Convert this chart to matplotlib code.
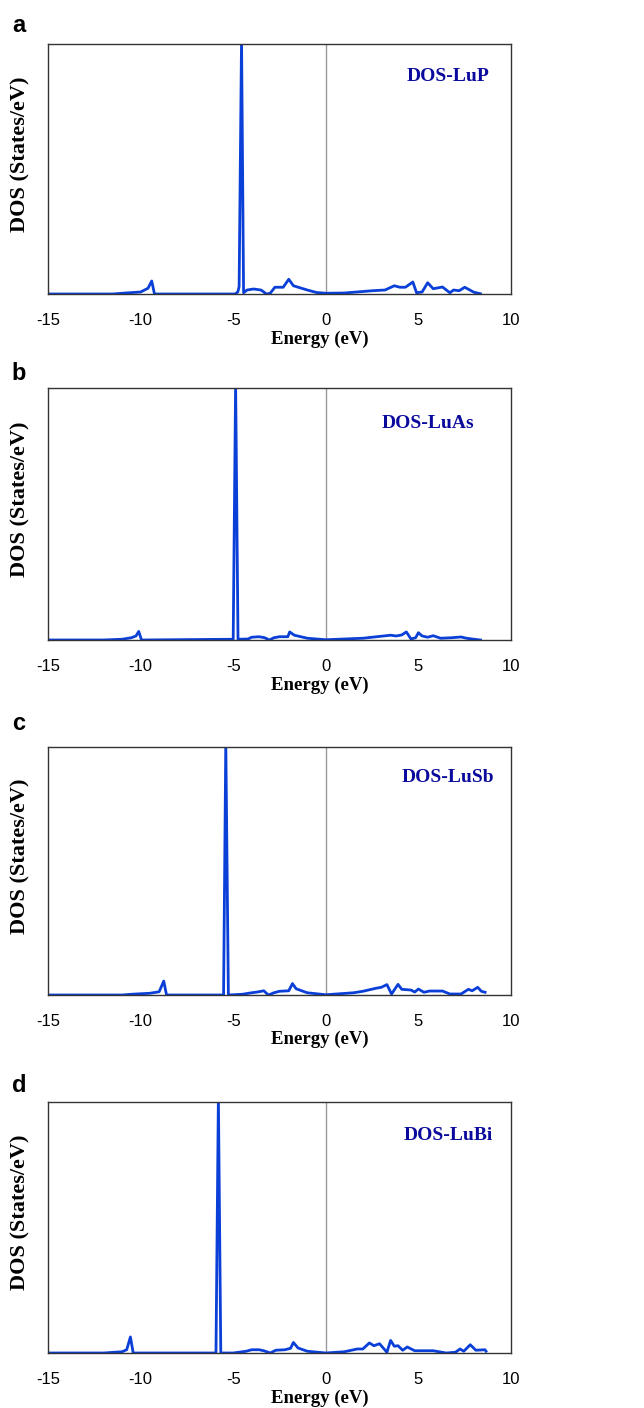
import matplotlib.pyplot as plt
import numpy as np

# Curvas DOS (energia en eV, DOS en unidades relativas; el pico agudo llega al borde superior)
e_lup = [-15, -11.5, -11, -10, -9.6, -9.4, -9.25, -4.9, -4.75, -4.68, -4.55, -4.44, -4.25, -3.9, -3.5, -3.2,
         -3.0, -2.75, -2.3, -2.0, -1.75, -1.0, -0.5, 0, 1, 2.5, 3.2, 3.7, 4.0, 4.3, 4.7, 4.9, 5.2, 5.5, 5.8,
         6.3, 6.7, 6.9, 7.2, 7.5, 8.0, 8.35]
dos_lup = [0, 0, 0.003, 0.008, 0.023, 0.052, 0, 0, 0.008, 0.03, 1.02, 0.005, 0.016, 0.02, 0.016, 0.0,
           0.003, 0.027, 0.027, 0.059, 0.033, 0.016, 0.006, 0.003, 0.004, 0.013, 0.016, 0.033, 0.027, 0.027,
           0.048, 0.005, 0.008, 0.045, 0.021, 0.028, 0.005, 0.016, 0.013, 0.027, 0.007, 0.001]

e_luas = [-15, -12, -11, -10.5, -10.25, -10.1, -9.95, -5.0, -4.87, -4.74, -4.2, -4.0, -3.6, -3.3, -3.05,
          -2.8, -2.5, -2.05, -1.95, -1.7, -1.0, 0, 2, 3.5, 3.8, 4.1, 4.35, 4.6, 4.85, 5.0, 5.2, 5.5, 5.8, 6.2,
          6.8, 7.3, 7.6, 8.0, 8.35]
dos_luas = [0, 0, 0.003, 0.009, 0.016, 0.034, 0, 0.003, 1.02, 0.003, 0.004, 0.011, 0.013, 0.009, 0.0,
            0.009, 0.013, 0.013, 0.032, 0.019, 0.007, 0.001, 0.007, 0.019, 0.016, 0.02, 0.032, 0.004, 0.009,
            0.029, 0.016, 0.011, 0.017, 0.007, 0.009, 0.012, 0.007, 0.003, 0.0]

e_lusb = [-15, -11, -10.5, -9.5, -9.0, -8.75, -8.6, -5.52, -5.4, -5.26, -4.5, -4.0, -3.7, -3.35, -3.1,
          -2.8, -2.5, -2.0, -1.8, -1.6, -1.0, 0, 1.5, 2.0, 2.7, 3.0, 3.3, 3.55, 3.9, 4.1, 4.6, 4.8, 5.0, 5.3,
          5.6, 6.3, 6.7, 7.3, 7.7, 7.9, 8.2, 8.4, 8.6]
dos_lusb = [0, 0, 0.003, 0.007, 0.013, 0.056, 0, 0, 1.02, 0, 0.003, 0.009, 0.012, 0.017, 0.0,
            0.009, 0.015, 0.017, 0.046, 0.025, 0.009, 0.001, 0.009, 0.015, 0.027, 0.031, 0.042, 0.004, 0.043,
            0.023, 0.02, 0.012, 0.024, 0.011, 0.016, 0.016, 0.004, 0.004, 0.023, 0.017, 0.031, 0.015, 0.011]

e_lubi = [-15, -12, -11, -10.75, -10.55, -10.4, -5.93, -5.8, -5.67, -5.0, -4.3, -4.0, -3.6, -3.35,
          -3.0, -2.7, -2.2, -1.9, -1.75, -1.5, -1.0, 0, 1, 1.7, 2.0, 2.35, 2.6, 2.9, 3.3, 3.5, 3.7, 3.9, 4.15,
          4.4, 4.8, 5.3, 5.8, 6.5, 7.0, 7.25, 7.45, 7.8, 8.1, 8.6, 8.65]
dos_lubi = [0, 0, 0.005, 0.013, 0.064, 0, 0, 1.02, 0, 0, 0.007, 0.013, 0.013, 0.009,
            0.0, 0.011, 0.013, 0.019, 0.042, 0.02, 0.007, 0.0, 0.005, 0.016, 0.016, 0.04, 0.029, 0.037, 0.003,
            0.05, 0.027, 0.029, 0.011, 0.024, 0.009, 0.009, 0.009, 0.0, 0.003, 0.016, 0.007, 0.033, 0.011,
            0.013, 0.007]

energias = [e_lup, e_luas, e_lusb, e_lubi]
dos = [dos_lup, dos_luas, dos_lusb, dos_lubi]
nombres = ['DOS-LuP', 'DOS-LuAs', 'DOS-LuSb', 'DOS-LuBi']
letras = ['a', 'b', 'c', 'd']
xticks = [-15, -10, -5, 0, 5, 10]

# Posiciones de cada panel en pixeles (arriba, abajo), etiqueta DOS (x, y) en fraccion de ejes
paneles = [(44, 294), (388, 640), (747, 995), (1102, 1353)]
pos_dos = [(0.864, 0.87), (0.82, 0.861), (0.864, 0.875), (0.864, 0.865)]
pos_letra = [25, 373, 724, 1085]

W, H = 644, 1408
fig = plt.figure(figsize=(W / 100, H / 100), dpi=100)

for i in range(4):
    top, bot = paneles[i]
    ax = fig.add_axes([48 / W, 1 - bot / H, 463 / W, (bot - top) / H])
    ax.plot(energias[i], dos[i], color='#0a3fd8', lw=2.0, solid_joinstyle='round')
    ax.axvline(0, color='#9a9a9a', lw=1.0, zorder=0)
    ax.set_xlim(-15, 10)
    ax.set_ylim(0, 1.0)
    ax.set_xticks(xticks)
    ax.set_xticklabels([str(t) for t in xticks], family='Liberation Sans', fontsize=12)
    ax.tick_params(axis='x', length=0, pad=14)
    ax.set_yticks([])
    for s in ax.spines.values():
        s.set_color('#333333')
        s.set_linewidth(1.0)
    ax.text(0.587, -0.18, 'Energy (eV)', transform=ax.transAxes, ha='center', va='center',
            family='Liberation Serif', fontweight='bold', fontsize=13.5)
    ax.text(-0.06, 0.56, 'DOS (States/eV)', transform=ax.transAxes, ha='center', va='center',
            rotation=90, family='Liberation Serif', fontweight='bold', fontsize=16)
    ax.text(pos_dos[i][0], pos_dos[i][1], nombres[i], transform=ax.transAxes, ha='center', va='center',
            family='Liberation Serif', fontweight='bold', fontsize=14, color='#0a0a9c')
    fig.text(19 / W, 1 - pos_letra[i] / H, letras[i], ha='center', va='center',
             family='Liberation Sans', fontweight='bold', fontsize=17)

fig.savefig('out.png', dpi=100)
